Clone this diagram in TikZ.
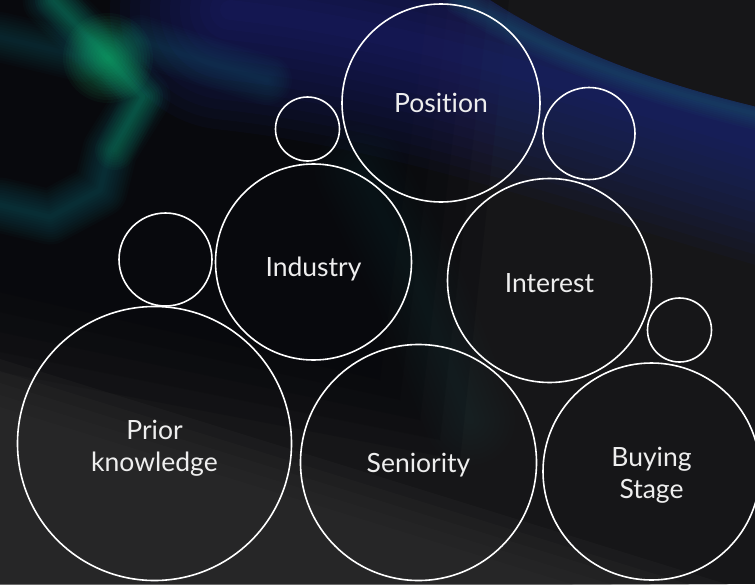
\documentclass[tikz,border=0pt]{standalone}
\usepackage{fontspec}
\setmainfont{Lato}[Ligatures={NoCommon}]
\definecolor{bgdark}{HTML}{161618}
\definecolor{bgblack}{HTML}{040509}
\definecolor{bggrey}{HTML}{2F2F2F}
\definecolor{glowblue}{HTML}{2830A0}
\definecolor{glowteal}{HTML}{1A7088}
\definecolor{streakteal}{HTML}{137080}
\definecolor{glowgreen}{HTML}{22D080}
\definecolor{hazeteal}{HTML}{2C4A52}
\definecolor{labelwhite}{HTML}{EEEEEE}
\tikzset{
  bubble/.style={circle,draw=white,line width=1.6pt,inner sep=0pt},
  bubbletext/.style={text=labelwhite,align=center,inner sep=0pt,
    font=\fontsize{26.5}{31.5}\selectfont},
  glowline/.style={line cap=round,line join=round},
}
\begin{document}
\begin{tikzpicture}[x=1pt,y=-1pt]
  \useasboundingbox (0,0) rectangle (755,584);
  % background
  \begin{scope}
    \clip (0,0) rectangle (755,584);
    \fill[bgdark] (0,0) rectangle (755,584);
    \foreach \d in {-40,-20,0,20,40}
      \fill[bgblack,opacity=0.2] (-10,-10) -- (470+\d,-10) -- (420+\d,420+\d) -- (-10,330+\d) -- cycle;
    \foreach \d in {-24,-12,0,12,24}
      \fill[bggrey,opacity=0.22] (0,383+\d) -- (755,617+\d) -- (755,600) -- (0,600) -- cycle;
    % blue band
    \begin{scope}
      \clip (-10,-10) -- (475,-10) .. controls (560,48) and (650,82) .. (770,110) -- (770,600) -- (-10,600) -- cycle;
      \foreach \w in {20,40,...,240}
        \draw[glowblue,opacity=0.055,line width=\w pt,glowline] (230,10) .. controls (420,30) and (600,95) .. (790,150);
      \foreach \w in {4,8,...,32}
        \draw[glowteal,opacity=0.05,line width=\w pt,glowline] (460,0) .. controls (560,58) and (650,90) .. (790,122);
    \end{scope}
    % haze
    \foreach \w in {10,20,...,90}
      \draw[hazeteal,opacity=0.025,line width=\w pt,glowline] (360,170) -- (420,290) -- (470,420);
    % streaks
    \foreach \w in {5,10,...,55}
      \draw[streakteal,line width=\w pt,opacity=0.045,glowline]
        (50,0) -- (110,60) -- (143,97) -- (110,150) -- (100,190) -- (50,217) -- (0,205);
    \foreach \w in {5,10,...,50}
      \draw[streakteal,line width=\w pt,opacity=0.035,glowline] (0,37) -- (83,57);
    \foreach \w in {5,10,...,50}
      \draw[streakteal,line width=\w pt,opacity=0.035,glowline] (140,40) -- (200,60) -- (267,80);
    \foreach \w in {5,10,...,40}
      \draw[glowgreen,line width=\w pt,opacity=0.035,glowline] (55,0) -- (108,58) -- (143,97) -- (115,150);
    \foreach \r in {3,6,...,45}
      \fill[glowgreen,opacity=0.045] (108,58) circle (\r);
  \end{scope}
  % bubbles
  \node[bubble,minimum size=198pt,label={[bubbletext]center:Position}] (position) at (441,103) {};
  \node[bubble,minimum size=196pt,label={[bubbletext,yshift=-7pt]center:Industry}] (industry) at (313.5,262) {};
  \node[bubble,minimum size=204pt,label={[bubbletext,yshift=-3pt]center:Interest}] (interest) at (549.5,280.5) {};
  \node[bubble,minimum size=274pt,label={[bubbletext,yshift=-4.5pt]center:Prior\\knowledge}] (prior) at (154.5,443.5) {};
  \node[bubble,minimum size=236pt,label={[bubbletext,yshift=-3pt]center:Seniority}] (seniority) at (418.5,462.5) {};
  \node[bubble,minimum size=217pt,label={[bubbletext,yshift=-3.5pt]center:Buying\\Stage}] (buying) at (651.5,471.5) {};
  \node[bubble,minimum size=64pt] (dotindustry) at (307.5,129) {};
  \node[bubble,minimum size=92pt] (dotinterest) at (589,133.5) {};
  \node[bubble,minimum size=93pt] (dotprior) at (165.5,259.5) {};
  \node[bubble,minimum size=64pt] (dotbuying) at (679.5,330) {};
\end{tikzpicture}
\end{document}
